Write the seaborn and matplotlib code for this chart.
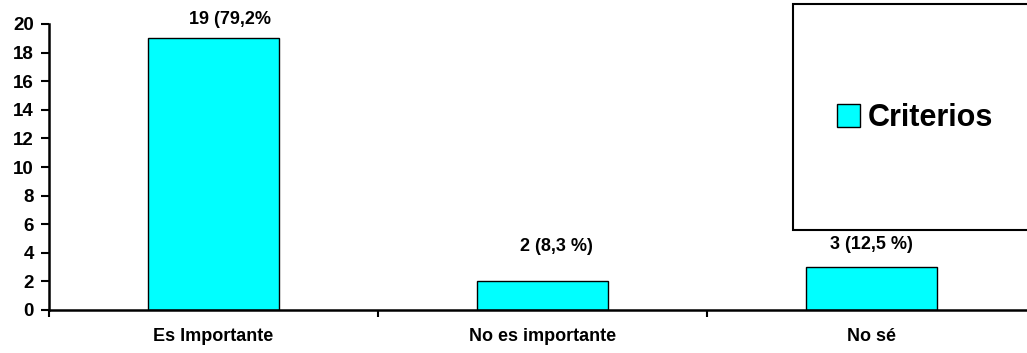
import matplotlib
matplotlib.use("Agg")
import matplotlib.pyplot as plt
from matplotlib.patches import Patch, Rectangle
import seaborn as sns
import pandas as pd

# Survey answers and their counts
categories = ["Es Importante", "No es importante", "No sé"]
counts = [19, 2, 3]
value_labels = ["19 (79,2%", "2 (8,3 %)", "3 (12,5 %)"]
series_name = "Criterios"
y_ticks = list(range(0, 21, 2))

# Pixel nudges for the value labels (dx, dy above the bar top)
label_offsets_px = [(16, 10), (14, 26), (0, 14)]

sns.set_theme(style="white")
plt.rcParams["font.family"] = ["Liberation Sans", "DejaVu Sans"]
plt.rcParams["font.weight"] = "bold"
plt.rcParams["text.color"] = "black"

BAR_COLOR = "#00FFFF"

fig = plt.figure(figsize=(10.27, 3.53), dpi=100)
ax = fig.add_axes([49 / 1027, 43 / 353, 987 / 1027, 286 / 353])

df = pd.DataFrame({"categoria": categories, "n": counts})
sns.barplot(data=df, x="categoria", y="n", color=BAR_COLOR, edgecolor="black",
            linewidth=1.0, width=0.4, saturation=1, ax=ax)

ax.set_xlim(-0.5, 2.5)
ax.set_ylim(0, 20)
ax.set_yticks(y_ticks)
ax.set_yticklabels([str(t) for t in y_ticks], fontsize=13.5, fontweight="bold", color="black")
ax.set_xlabel("")
ax.set_ylabel("")
ax.tick_params(axis="x", which="major", length=0, pad=13, labelsize=13, labelcolor="black")
for lbl in ax.get_xticklabels():
    lbl.set_fontweight("bold")
ax.set_xticks([-0.5, 0.5, 1.5, 2.5], minor=True)
ax.tick_params(axis="x", which="minor", direction="out", length=5, width=1.5, color="black", bottom=True)
ax.tick_params(axis="y", direction="out", length=6, width=1.5, color="black", left=True, pad=5)

for side in ("top", "right"):
    ax.spines[side].set_visible(False)
for side in ("left", "bottom"):
    ax.spines[side].set_color("black")
    ax.spines[side].set_linewidth(1.8)

# Value labels above each bar
for i, (val, txt) in enumerate(zip(counts, value_labels)):
    dx, dy = label_offsets_px[i]
    ax.annotate(txt, xy=(i, val), xytext=(dx * 0.72, dy * 0.72),
                textcoords="offset points", ha="center", va="bottom",
                fontsize=13, fontweight="bold", color="black")

# Legend frame running off the right edge
frame = Rectangle((793 / 1027, 123 / 353), 0.25, 226 / 353, transform=fig.transFigure,
                  facecolor="white", edgecolor="black", linewidth=1.5, clip_on=False, zorder=5)
fig.patches.append(frame)

handle = Patch(facecolor=BAR_COLOR, edgecolor="black", linewidth=1.0)
leg = fig.legend([handle], [series_name], loc="center",
                 bbox_to_anchor=(915 / 1027, 1 - 118 / 353), frameon=False,
                 prop={"family": ["Liberation Sans"], "weight": "bold", "size": 22},
                 handlelength=0.75, handleheight=0.75, handletextpad=0.25)
for t in leg.get_texts():
    t.set_color("black")
leg.set_zorder(6)

fig.savefig("out.png", dpi=100)
